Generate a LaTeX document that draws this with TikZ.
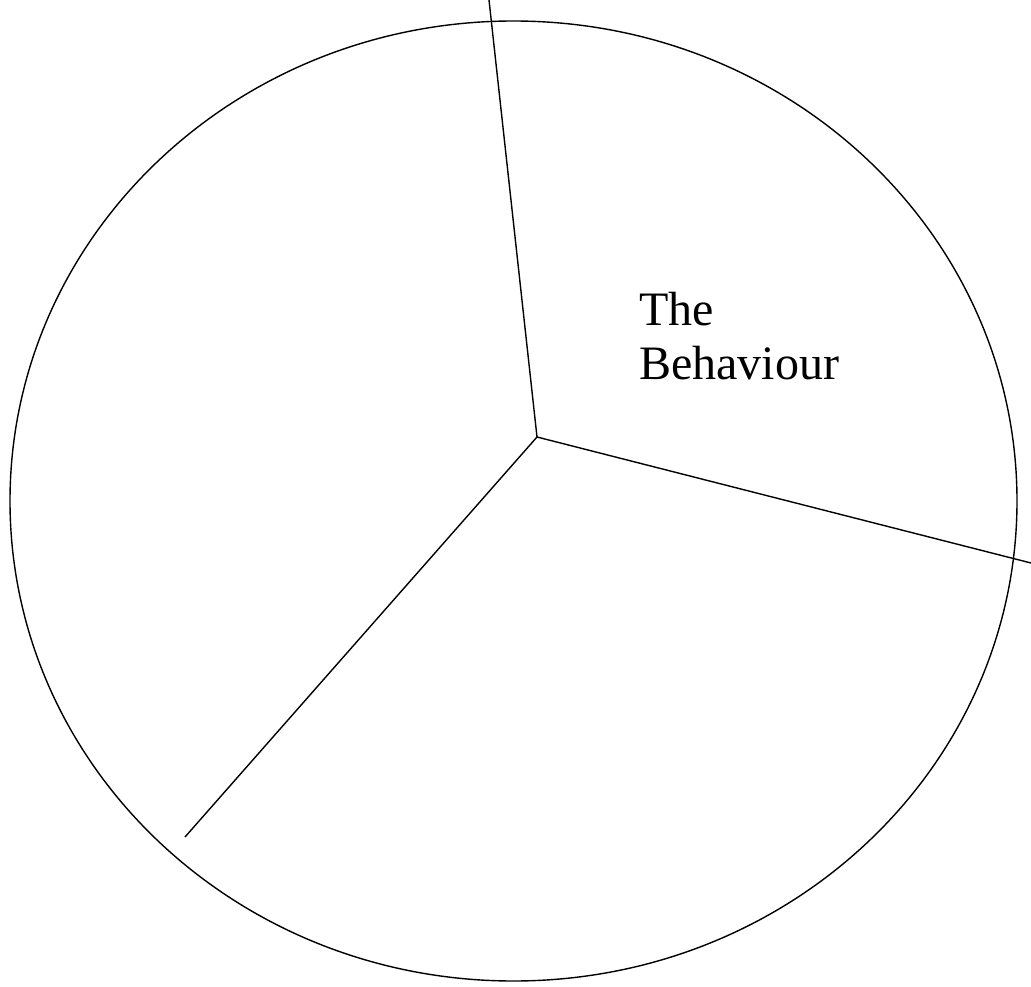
\documentclass[tikz,border=0pt]{standalone}
\usepackage{fontspec}
\setmainfont{Liberation Serif}
\usepackage{tikz}
\usetikzlibrary{calc}
\tikzstyle{rim} = [line width=1.4pt, black]
\tikzstyle{spoke} = [line width=1.4pt, black]
\tikzstyle{label} = [anchor=north west, inner sep=0pt, align=left, font=\fontsize{48}{54}\selectfont]

\begin{document}
\begin{tikzpicture}[x=1pt, y=-1pt]
    \useasboundingbox (0,0) rectangle (1031,987);
    % outer ellipse
    \draw[rim] (513.5,501) ellipse [x radius=503.5, y radius=480];
    % spokes from the hub
    \coordinate (hub) at (537,437);
    \coordinate (top) at (489,0);
    \coordinate (right) at (1031,563);
    \coordinate (lowleft) at (185,837);
    \draw[spoke] (hub) -- (top);
    \draw[spoke] (hub) -- (right);
    \draw[spoke] (hub) -- (lowleft);
    \node[label] (behaviour) at (639,292) {The\\Behaviour};
\end{tikzpicture}
\end{document}
